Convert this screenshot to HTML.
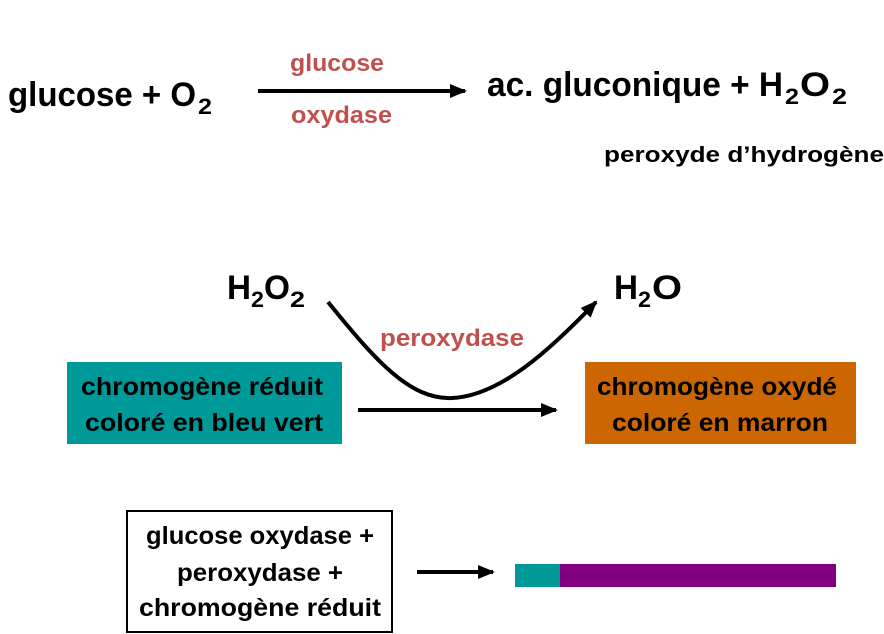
<!DOCTYPE html>
<html><head><meta charset="utf-8"><style>
html,body{margin:0;padding:0;background:#fff;width:884px;height:634px;overflow:hidden}
svg{display:block}
text{font-family:"Liberation Sans",sans-serif;font-weight:bold}
</style></head><body>
<svg width="884" height="634" viewBox="0 0 884 634" xmlns="http://www.w3.org/2000/svg">
<defs>
<marker id="ah" markerWidth="18" markerHeight="16" refX="15" refY="8" orient="auto" markerUnits="userSpaceOnUse">
<path d="M0,1 L17,8 L0,15 Z" fill="#000"/></marker>
</defs>
<!-- row 1 -->
<text x="8" y="106" font-size="34" textLength="188" lengthAdjust="spacingAndGlyphs">glucose + O</text>
<text x="198" y="114" font-size="22" textLength="14" lengthAdjust="spacingAndGlyphs">2</text>
<text x="290" y="71" font-size="24" fill="#c0504d" textLength="94" lengthAdjust="spacingAndGlyphs">glucose</text>
<text x="291" y="123" font-size="24" fill="#c0504d" textLength="101" lengthAdjust="spacingAndGlyphs">oxydase</text>
<line x1="258" y1="91" x2="465" y2="91" stroke="#000" stroke-width="4" marker-end="url(#ah)"/>
<text x="487" y="96" font-size="34" textLength="296" lengthAdjust="spacingAndGlyphs">ac. gluconique + H</text>
<text x="785" y="104" font-size="22" textLength="14" lengthAdjust="spacingAndGlyphs">2</text>
<text x="800" y="96" font-size="34" textLength="30" lengthAdjust="spacingAndGlyphs">O</text>
<text x="832" y="104" font-size="22" textLength="15" lengthAdjust="spacingAndGlyphs">2</text>
<text x="604" y="162" font-size="22" textLength="280" lengthAdjust="spacingAndGlyphs">peroxyde d’hydrogène</text>
<!-- row 2 -->
<text x="227" y="299" font-size="34" textLength="24" lengthAdjust="spacingAndGlyphs">H</text>
<text x="251" y="307" font-size="22" textLength="13" lengthAdjust="spacingAndGlyphs">2</text>
<text x="264" y="299" font-size="34" textLength="26" lengthAdjust="spacingAndGlyphs">O</text>
<text x="290" y="307" font-size="22" textLength="15" lengthAdjust="spacingAndGlyphs">2</text>
<text x="614" y="299" font-size="34" textLength="24" lengthAdjust="spacingAndGlyphs">H</text>
<text x="638" y="307" font-size="22" textLength="13" lengthAdjust="spacingAndGlyphs">2</text>
<text x="652" y="299" font-size="34" textLength="30" lengthAdjust="spacingAndGlyphs">O</text>
<path d="M328,302 C375,360 410,400 452,398 C500,396 550,350 596,302" fill="none" stroke="#000" stroke-width="4" marker-end="url(#ah)"/>
<text x="380" y="346" font-size="24" fill="#c0504d" textLength="144" lengthAdjust="spacingAndGlyphs">peroxydase</text>
<rect x="67" y="362" width="275" height="82" fill="#009999"/>
<text x="202" y="395" font-size="25" text-anchor="middle" textLength="242" lengthAdjust="spacingAndGlyphs">chromogène réduit</text>
<text x="204" y="431" font-size="25" text-anchor="middle" textLength="238" lengthAdjust="spacingAndGlyphs">coloré en bleu vert</text>
<line x1="358" y1="410" x2="556" y2="410" stroke="#000" stroke-width="4" marker-end="url(#ah)"/>
<rect x="585" y="362" width="271" height="82" fill="#cc6600"/>
<text x="717" y="395" font-size="25" text-anchor="middle" textLength="240" lengthAdjust="spacingAndGlyphs">chromogène oxydé</text>
<text x="720" y="431" font-size="25" text-anchor="middle" textLength="216" lengthAdjust="spacingAndGlyphs">coloré en marron</text>
<!-- row 3 -->
<rect x="127" y="511" width="265" height="121" fill="#fff" stroke="#000" stroke-width="2"/>
<text x="260" y="544" font-size="25" text-anchor="middle" textLength="228" lengthAdjust="spacingAndGlyphs">glucose oxydase +</text>
<text x="260" y="581" font-size="25" text-anchor="middle" textLength="166" lengthAdjust="spacingAndGlyphs">peroxydase +</text>
<text x="260" y="616" font-size="25" text-anchor="middle" textLength="242" lengthAdjust="spacingAndGlyphs">chromogène réduit</text>
<line x1="417" y1="572" x2="493" y2="572" stroke="#000" stroke-width="4" marker-end="url(#ah)"/>
<rect x="515" y="564" width="45" height="23" fill="#009999"/>
<rect x="560" y="564" width="276" height="23" fill="#800080"/>
</svg>
</body></html>
